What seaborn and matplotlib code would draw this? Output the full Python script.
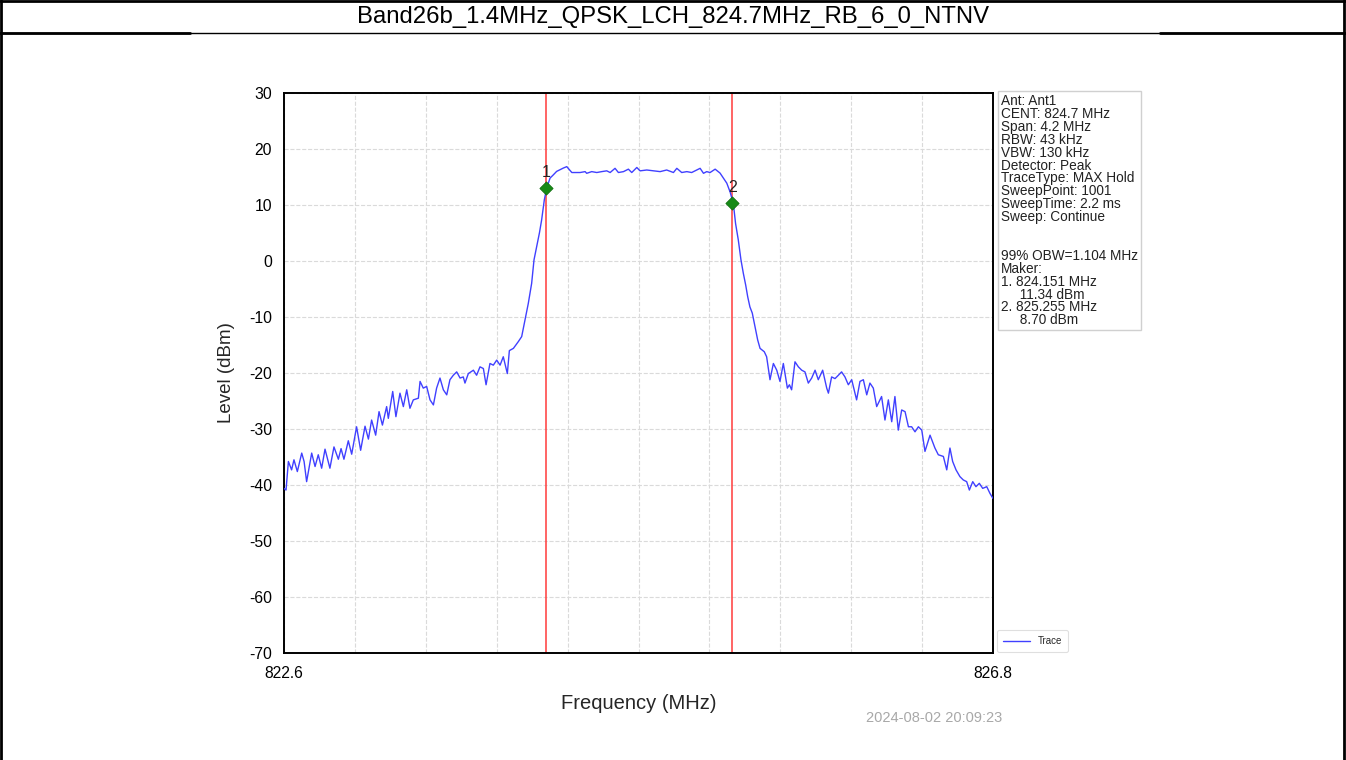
import numpy as np
import pandas as pd
import matplotlib
matplotlib.use("Agg")
import matplotlib.pyplot as plt
import seaborn as sns
from matplotlib.lines import Line2D

# ---------------- data ----------------
title = "Band26b_1.4MHz_QPSK_LCH_824.7MHz_RB_6_0_NTNV"
timestamp = "2024-08-02 20:09:23"

trace_freq = [
    822.600, 822.612, 822.626, 822.645, 822.659, 822.679, 822.705, 822.719, 822.734, 822.764,
    822.784, 822.803, 822.823, 822.843, 822.872, 822.896, 822.922, 822.938, 822.955, 822.981,
    823.001, 823.030, 823.054, 823.080, 823.100, 823.119, 823.143, 823.163, 823.183, 823.208,
    823.218, 823.244, 823.263, 823.287, 823.307, 823.327, 823.346, 823.366, 823.396, 823.406,
    823.425, 823.445, 823.465, 823.485, 823.504, 823.524, 823.544, 823.564, 823.583, 823.603,
    823.623, 823.643, 823.662, 823.672, 823.692, 823.722, 823.741, 823.761, 823.781, 823.797,
    823.820, 823.840, 823.860, 823.880, 823.899, 823.923, 823.935, 823.959, 823.988, 824.008,
    824.028, 824.047, 824.067, 824.081, 824.097, 824.113, 824.126, 824.142, 824.156, 824.176,
    824.196, 824.215, 824.235, 824.255, 824.275, 824.305, 824.354, 824.384, 824.393, 824.423,
    824.453, 824.482, 824.512, 824.532, 824.561, 824.581, 824.611, 824.640, 824.660, 824.690,
    824.709, 824.749, 824.788, 824.828, 824.867, 824.907, 824.927, 824.956, 824.986, 825.015,
    825.045, 825.065, 825.085, 825.104, 825.124, 825.154, 825.183, 825.203, 825.223, 825.243,
    825.262, 825.275, 825.291, 825.307, 825.321, 825.335, 825.347, 825.360, 825.374, 825.390,
    825.406, 825.420, 825.445, 825.459, 825.479, 825.499, 825.519, 825.538, 825.558, 825.582,
    825.594, 825.607, 825.627, 825.647, 825.667, 825.686, 825.706, 825.726, 825.746, 825.765,
    825.791, 825.815, 825.825, 825.844, 825.864, 825.884, 825.903, 825.923, 825.943, 825.963,
    825.992, 826.012, 826.032, 826.052, 826.071, 826.091, 826.111, 826.140, 826.160, 826.180,
    826.200, 826.219, 826.239, 826.259, 826.279, 826.299, 826.318, 826.338, 826.358, 826.378,
    826.397, 826.427, 826.456, 826.476, 826.506, 826.526, 826.545, 826.561, 826.581, 826.604,
    826.624, 826.644, 826.660, 826.680, 826.699, 826.719, 826.739, 826.763, 826.782, 826.800,
]
trace_level = [
    -40.6, -40.9, -35.8, -37.3, -35.5, -37.6, -34.3, -35.8, -39.4, -34.3,
    -36.7, -34.6, -37.0, -33.6, -37.0, -33.2, -35.4, -33.5, -35.4, -32.1,
    -34.5, -29.6, -33.8, -29.5, -31.8, -28.4, -31.1, -26.9, -29.3, -26.0,
    -28.1, -23.3, -27.8, -23.6, -26.0, -23.0, -26.3, -24.8, -24.5, -21.5,
    -22.7, -22.4, -24.8, -25.7, -22.7, -20.9, -23.0, -23.9, -21.2, -20.4,
    -19.8, -20.9, -20.7, -21.8, -20.1, -19.5, -20.4, -18.9, -19.2, -22.1,
    -18.3, -18.6, -17.7, -18.6, -17.1, -20.1, -16.0, -15.6, -14.4, -13.5,
    -10.5, -7.6, -4.0, 0.2, 2.6, 5.0, 7.3, 10.9, 13.0, 14.8,
    15.4, 16.0, 16.3, 16.6, 16.85, 15.8, 15.8, 15.96, 15.66, 15.96,
    15.8, 15.96, 16.1, 15.8, 16.55, 15.8, 15.96, 16.4, 15.8, 16.7,
    16.1, 16.25, 16.1, 15.96, 16.25, 15.8, 16.55, 15.8, 15.96, 15.8,
    16.25, 16.55, 15.66, 15.96, 15.8, 16.4, 15.7, 14.8, 13.9, 12.3,
    10.2, 6.7, 3.8, 0.2, -2.2, -4.3, -6.4, -8.2, -9.3, -11.7,
    -14.1, -15.6, -16.2, -17.1, -21.2, -18.3, -19.5, -21.5, -18.3, -22.7,
    -22.1, -23.0, -18.0, -18.9, -19.5, -19.8, -21.8, -20.9, -19.5, -21.2,
    -19.5, -22.7, -23.6, -20.7, -21.0, -20.4, -19.8, -20.7, -22.1, -21.2,
    -24.8, -21.5, -21.2, -23.9, -21.8, -22.7, -26.0, -24.2, -28.4, -24.8,
    -28.7, -24.2, -30.2, -26.6, -26.9, -29.6, -29.6, -30.5, -29.6, -30.2,
    -34.0, -31.1, -33.4, -34.6, -34.9, -37.3, -33.4, -35.8, -37.3, -38.5,
    -39.1, -39.4, -40.9, -39.4, -40.3, -39.7, -40.6, -40.3, -41.5, -42.4,
]

marker_freq = [824.151, 825.255]
marker_level = [13.0, 10.3]
marker_labels = ["1", "2"]

y_ticks = [30, 20, 10, 0, -10, -20, -30, -40, -50, -60, -70]
x_start, x_stop = 822.6, 826.8
x_tick_labels = ["822.6", "", "", "", "", "", "", "", "", "", "826.8"]

info_lines = [
    "Ant: Ant1",
    "CENT: 824.7 MHz",
    "Span: 4.2 MHz",
    "RBW: 43 kHz",
    "VBW: 130 kHz",
    "Detector: Peak",
    "TraceType: MAX Hold",
    "SweepPoint: 1001",
    "SweepTime: 2.2 ms",
    "Sweep: Continue",
    "",
    "",
    "99% OBW=1.104 MHz",
    "Maker:",
    "1. 824.151 MHz",
    "     11.34 dBm",
    "2. 825.255 MHz",
    "     8.70 dBm",
]

# ---------------- styling ----------------
sns.set_style("white")
plt.rcParams["font.family"] = ["Liberation Sans", "DejaVu Sans"]
plt.rcParams["axes.unicode_minus"] = False

W, H = 1346, 760
fig = plt.figure(figsize=(W / 100, H / 100), dpi=100)
fig.patch.set_facecolor("white")

ax_l, ax_r, ax_t, ax_b = 284, 993, 93, 653
ax = fig.add_axes([ax_l / W, 1 - ax_b / H, (ax_r - ax_l) / W, (ax_b - ax_t) / H])

df = pd.DataFrame({"freq": trace_freq, "level": trace_level})
sns.lineplot(data=df, x="freq", y="level", ax=ax, color="#4040ff", lw=1.0,
             sort=False, estimator=None, label="Trace", zorder=3)

for f in marker_freq:
    ax.axvline(f, color="#ff3b3b", lw=1.1, zorder=2)

sns.scatterplot(x=marker_freq, y=marker_level, ax=ax, marker="D", s=45,
                color="#168a16", edgecolor="#0f6f0f", linewidth=0.6, zorder=5, legend=False)
for f, lv, lab in zip(marker_freq, marker_level, marker_labels):
    ax.text(f, lv + 2.8, lab, ha="center", va="center", fontsize=11.5, color="#222222", zorder=6)

ax.set_xlim(x_start, x_stop)
ax.set_ylim(-70, 30)
ax.set_yticks(y_ticks)
ax.set_yticklabels([str(v) for v in y_ticks])
ax.set_xticks(np.linspace(x_start, x_stop, len(x_tick_labels)))
ax.set_xticklabels(x_tick_labels)
ax.tick_params(axis="both", direction="out", length=5, width=1.2, labelsize=11.3, colors="black")
ax.tick_params(axis="x", pad=4)
ax.grid(True, ls="--", color="#dadada", lw=0.8)
for s in ax.spines.values():
    s.set_color("black")
    s.set_linewidth(1.4)

ax.set_xlabel("Frequency (MHz)", fontsize=14.5, labelpad=10)
ax.set_ylabel("Level (dBm)", fontsize=13.5, labelpad=10)

leg = ax.legend(loc="lower left", bbox_to_anchor=(997 / W, 1 - 652 / H),
                bbox_transform=fig.transFigure, fontsize=7, frameon=True,
                handlelength=2.8, borderaxespad=0, borderpad=0.6, fancybox=True)
leg.get_frame().set_edgecolor("#d8d8d8")
leg.get_frame().set_linewidth(0.8)

fig.text(1001 / W, 1 - 94 / H, "\n".join(info_lines), ha="left", va="top",
         fontsize=9.8, linespacing=0.9, color="#222222",
         bbox=dict(boxstyle="square,pad=0.22", fc="white", ec="#d0d0d0", lw=1))

fig.text(934 / W, 1 - 718 / H, timestamp, ha="center", va="center", fontsize=10.5, color="#a8a8a8")

fig.text(0.5, 1 - 17 / H, title, ha="center", va="center", fontsize=17.2, color="black")

# outer frame / table borders
tr = fig.transFigure
fig.add_artist(Line2D([0, 1], [1 - 1 / H] * 2, transform=tr, color="black", lw=2))
fig.add_artist(Line2D([1.2 / W] * 2, [0, 1], transform=tr, color="black", lw=2))
fig.add_artist(Line2D([1 - 2 / W] * 2, [0, 1], transform=tr, color="black", lw=2))
fig.add_artist(Line2D([0, 1], [1 - 33 / H] * 2, transform=tr, color="black", lw=1.0))
fig.add_artist(Line2D([0, 190 / W], [1 - 33 / H] * 2, transform=tr, color="black", lw=2))
fig.add_artist(Line2D([1160 / W, 1], [1 - 33 / H] * 2, transform=tr, color="black", lw=2))

fig.savefig("out.png", dpi=100)
